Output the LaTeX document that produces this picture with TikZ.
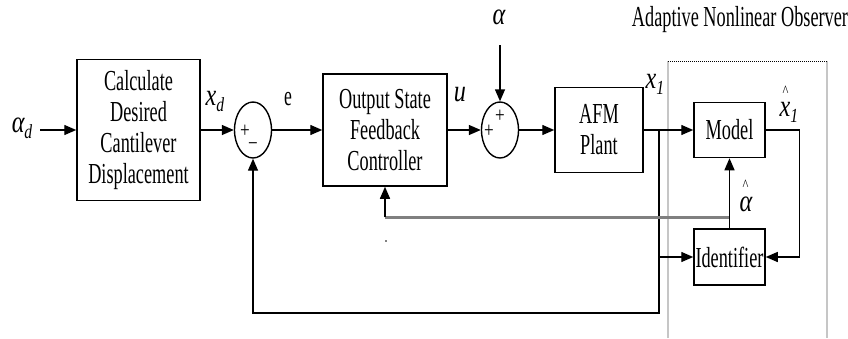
\documentclass[tikz,border=0pt]{standalone}
\usepackage{fontspec}
\setmainfont[FakeStretch=0.63]{Liberation Serif}
\newfontfamily\labfont[FakeStretch=0.78]{Liberation Serif}
\usetikzlibrary{arrows.meta,shapes.geometric}
\newcommand\lab[1]{{\labfont\itshape\fontsize{31}{31}\selectfont #1}}
\newcommand\lsub[1]{\raisebox{-6pt}{\labfont\itshape\fontsize{20}{20}\selectfont #1}}
\newcommand\hatlab[1]{\shortstack[l]{\hspace{3pt}{\labfont\fontsize{16}{16}\selectfont\^{}}\\[3pt]#1}}
\begin{document}
\begin{tikzpicture}[x=1pt,y=-1pt,
  blk/.style={draw, line width=1.5pt, align=center, inner sep=0pt,
    font=\fontsize{29}{31}\selectfont},
  sumnode/.style={draw, ellipse, line width=1.4pt, minimum width=37pt, minimum height=56pt, inner sep=0pt},
  conn/.style={line width=1.4pt, -{Triangle[length=12pt,width=10pt]}},
  graywire/.style={line width=3pt, draw=gray},
  sign/.style={inner sep=0pt, font=\labfont\fontsize{22}{22}\selectfont},
  lbl/.style={inner sep=0pt}]
\useasboundingbox (0,0) rectangle (848,338);

% observer frame
\draw[gray!45, line width=1.6pt] (668,338) -- (668,61) (827,61) -- (827,338);
\draw[line width=1pt, dash pattern=on 1pt off 1pt] (668,61) -- (827,61);
\node[lbl, font=\fontsize{29}{31}\selectfont] (obs) at (740,20) {Adaptive Nonlinear Observer};

% blocks
\node[blk, minimum width=123pt, minimum height=141pt] (calc) at (138.5,130) {Calculate\\Desired\\Cantilever\\Displacement};
\node[sumnode] (s1) at (253,130) {};
\node[blk, minimum width=124pt, minimum height=112pt] (ctrl) at (385,130) {Output State\\Feedback\\Controller};
\node[sumnode] (s2) at (500,130) {};
\node[blk, minimum width=88pt, minimum height=85pt] (afm) at (599,130) {AFM\\Plant};
\node[blk, minimum width=71pt, minimum height=55pt] (model) at (729.5,130) {Model};
\node[blk, minimum width=71pt, minimum height=56pt] (ident) at (729.5,257) {Identifier};

% signs
\node[sign] (s1p) at (245,131) {+};
\node[sign] (s1m) at (253,147) {\textminus};
\node[sign] (s2p1) at (500,116) {+};
\node[sign] (s2p2) at (489,131) {+};

% labels
\node[lbl] (lad) at (22,128) {\lab{α}\lsub{d}};
\node[lbl] (lxd) at (215,101) {\lab{x}\lsub{d}};
\node[lbl, font=\fontsize{28}{28}\selectfont] (le) at (288,99) {e};
\node[lbl] (lu) at (460,95) {\lab{u}};
\node[lbl] (la) at (499,17) {\lab{α}};
\node[lbl] (lx1) at (655,84) {\lab{x}\lsub{1}};
\node[lbl] (lxh) at (789,104) {\hatlab{\lab{x}\lsub{1}}};
\node[lbl] (lah) at (746,196) {\hatlab{\lab{α}}};

% coordinates
\coordinate (in) at (40,130);
\coordinate (atop) at (500,45);
\coordinate (br1) at (659,130);
\coordinate (br2) at (659,257);
\coordinate (br3) at (659,313);
\coordinate (g1) at (729.5,217);
\coordinate (g2) at (385,217);

% connectors
\draw[conn] (in) -- (calc.west);
\draw[conn] (calc.east) -- (s1.west);
\draw[conn] (s1.east) -- (ctrl.west);
\draw[conn] (ctrl.east) -- (s2.west);
\draw[conn] (atop) -- (s2.north);
\draw[conn] (s2.east) -- (afm.west);
\draw[conn] (afm.east) -- (model.west);
\draw[conn] (br1) -- (br3) -| (s1.south);
\draw[conn] (br2) -- (ident.west);
\draw[conn] (model.east) -- ++(34,0) |- (ident.east);
\draw[graywire] (g1) -- (g2);
\draw[conn] (ident.north) -- (model.south);
\draw[conn] (g2) -- (ctrl.south);
\fill (386,241) circle (0.9pt);
\end{tikzpicture}
\end{document}
